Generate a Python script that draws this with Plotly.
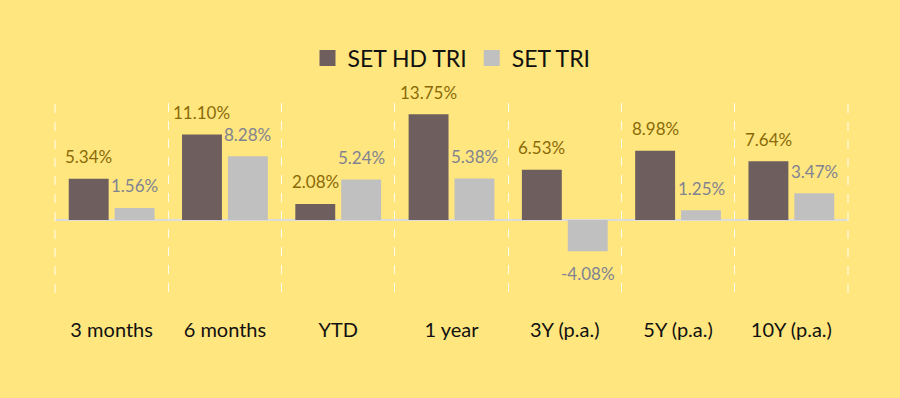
import plotly.graph_objects as go

categories = ["3 months", "6 months", "YTD", "1 year", "3Y (p.a.)", "5Y (p.a.)", "10Y (p.a.)"]
set_hd_tri = [5.34, 11.10, 2.08, 13.75, 6.53, 8.98, 7.64]
set_tri = [1.56, 8.28, 5.24, 5.38, -4.08, 1.25, 3.47]
series_names = ["SET HD TRI", "SET TRI"]

BG = "#FFE67E"
C_HD = "#6E5E5E"
C_SET = "#C0C0C0"
T_HD = "#8A6A08"
T_SET = "#7F8392"
FONT = "Lato"

fig = go.Figure()
fig.add_trace(go.Bar(x=categories, y=set_hd_tri, name=series_names[0],
                     marker=dict(color=C_HD, line=dict(width=0)), showlegend=False))
fig.add_trace(go.Bar(x=categories, y=set_tri, name=series_names[1],
                     marker=dict(color=C_SET, line=dict(width=0)), showlegend=False))
# legend proxies
for nm, c in zip(series_names, [C_HD, C_SET]):
    fig.add_trace(go.Scatter(x=[None], y=[None], mode="markers", name=nm,
                             marker=dict(symbol="square", size=18, color=c)))

annotations = []
for cat, v in zip(categories, set_hd_tri):
    annotations.append(dict(x=cat, y=v, xref="x", yref="y", text=f"{v:.2f}%",
                            showarrow=False, xshift=-23, yshift=22 if v >= 0 else -22,
                            font=dict(family=FONT, size=17, color=T_HD)))
for cat, v in zip(categories, set_tri):
    annotations.append(dict(x=cat, y=v, xref="x", yref="y", text=f"{v:.2f}%",
                            showarrow=False, xshift=23, yshift=22 if v >= 0 else -22,
                            font=dict(family=FONT, size=17, color=T_SET)))

shapes = [dict(type="line", xref="paper", yref="paper", x0=xp, x1=xp, y0=0, y1=1,
               line=dict(color="rgba(255,255,255,0.9)", width=1, dash="dash"))
          for xp in (0, 1)]

fig.update_layout(
    width=900, height=398,
    paper_bgcolor=BG, plot_bgcolor=BG,
    margin=dict(l=55, r=52, t=103, b=105),
    barmode="group", bargap=0.19, bargroupgap=0.13,
    font=dict(family=FONT, color="#111111"),
    legend=dict(orientation="h", x=0.5, xanchor="center", y=1.237, yanchor="middle",
                font=dict(family=FONT, size=23, color="#111111"),
                itemsizing="trace", bgcolor="rgba(0,0,0,0)"),
    annotations=annotations,
    shapes=shapes,
    xaxis=dict(type="category", tickson="boundaries", showgrid=True,
               gridcolor="rgba(255,255,255,0.9)", griddash="dash", gridwidth=1,
               showline=False, ticks="", zeroline=False,
               tickfont=dict(family=FONT, size=20, color="#111111"),
               ticklabelstandoff=23),
    yaxis=dict(range=[-9.5, 15.2], showgrid=False, showticklabels=False,
               zeroline=True, zerolinecolor="#DCDCDC", zerolinewidth=2),
)

fig.write_html("out.html", config={"displayModeBar": False},
               post_script="document.body.style.margin='0';document.body.style.background='" + BG + "';")
